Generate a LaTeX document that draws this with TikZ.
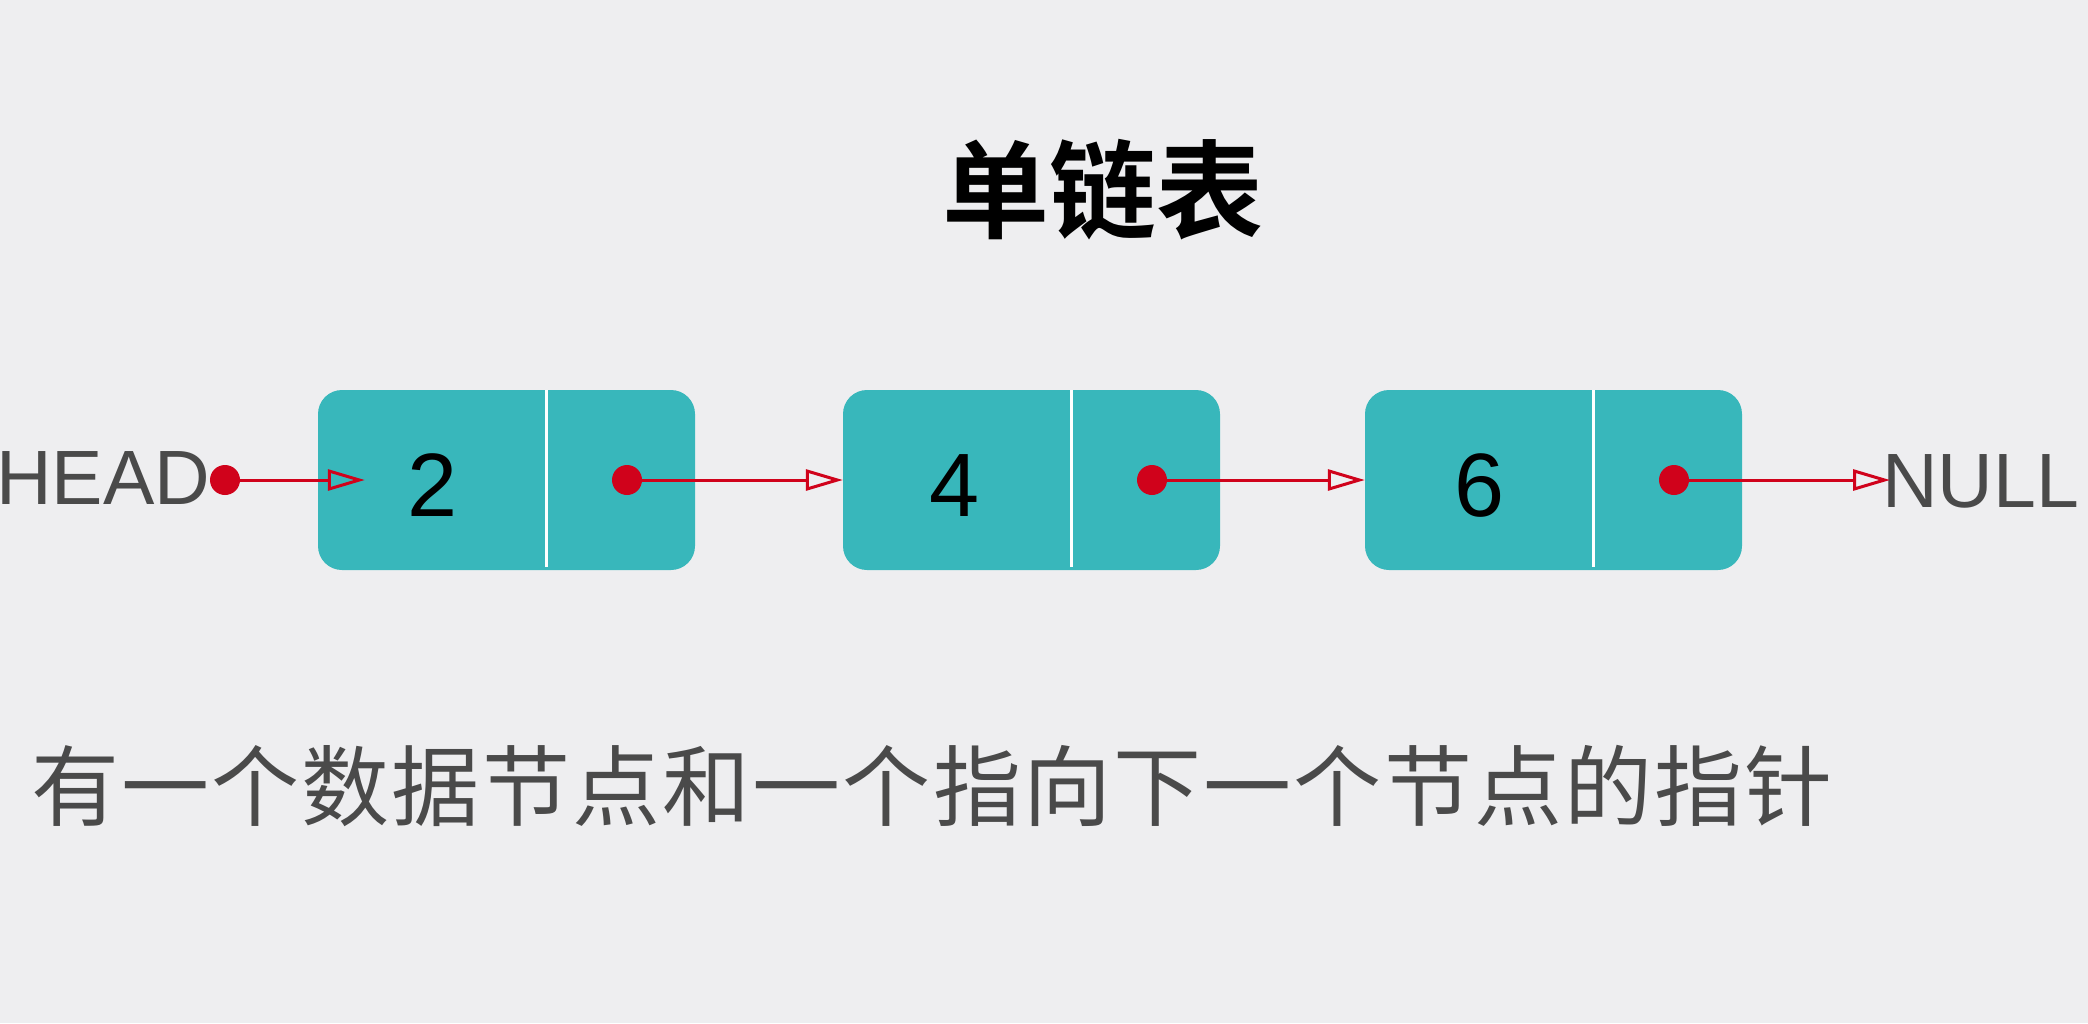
\documentclass[tikz,border=0pt]{standalone}
\usepackage{fontspec}
\setmainfont{Liberation Sans}
\newfontfamily\cjktitle{Noto Sans CJK SC Bold}
\newfontfamily\cjktext[LetterSpace=2.5]{Noto Sans CJK SC}
\usetikzlibrary{arrows.meta}
\definecolor{bgcol}{HTML}{EEEEF0}
\definecolor{teal}{HTML}{38B7BB}
\definecolor{ptrred}{HTML}{D0021B}
\definecolor{txtgrey}{HTML}{4A4A4A}
\tikzset{
  cell/.style={fill=teal, draw=none, rounded corners=24pt, minimum width=377pt,
    minimum height=180pt, inner sep=0pt},
  divider/.style={draw=white, line width=3pt},
  ptr/.style={circle, fill=ptrred, draw=none, minimum size=30pt, inner sep=0pt},
  link/.style={draw=ptrred, line width=3pt,
    -{Triangle[open, length=37pt, width=21pt, line width=3pt]}},
  digit/.style={anchor=base, inner sep=0pt, font=\fontsize{90}{90}\selectfont},
  label/.style={anchor=base west, inner sep=0pt, text=txtgrey,
    font=\fontsize{77}{77}\selectfont}
}
\begin{document}
\begin{tikzpicture}[x=1pt, y=-1pt]
  \fill[bgcol] (0,0) rectangle (2088,1023);
  \useasboundingbox (0,0) rectangle (2088,1023);

  % title
  \node[anchor=base, inner sep=0pt, font=\cjktitle\fontsize{107}{107}\selectfont]
    (title) at (1103,230) {单链表};

  % list cells
  \node[cell] (b1) at (506.5,480) {};
  \node[cell] (b2) at (1031.5,480) {};
  \node[cell] (b3) at (1553.5,480) {};
  \foreach \b in {b1,b2,b3}{
    \draw[divider] ([xshift=229pt]\b.north west) -- ([xshift=229pt,yshift=3pt]\b.south west);
  }

  % data values
  \node[digit] (v1) at (432.5,516) {2};
  \node[digit] (v2) at (955,516) {4};
  \node[digit] (v3) at (1479.5,516) {6};

  % end labels
  \node[label] (head) at (-4,504) {HEAD};
  \node[label] (null) at (1882,507) {NULL};

  % pointer dots
  \node[ptr] (d0) at (225,480) {};
  \node[ptr] (d1) at (627,480) {};
  \node[ptr] (d2) at (1152,480) {};
  \node[ptr] (d3) at (1674,480) {};

  % links
  \draw[link] (d0.east) -- ([xshift=47pt]b1.west);
  \draw[link] (d1.east) -- (b2.west);
  \draw[link] (d2.east) -- (b3.west);
  \draw[link] (d3.east) -- ([xshift=8pt]null.west |- d3);

  % caption
  \node[anchor=base, inner sep=0pt, text=txtgrey, font=\cjktext\fontsize{88}{88}\selectfont]
    (caption) at (932,819) {有一个数据节点和一个指向下一个节点的指针};
\end{tikzpicture}
\end{document}
